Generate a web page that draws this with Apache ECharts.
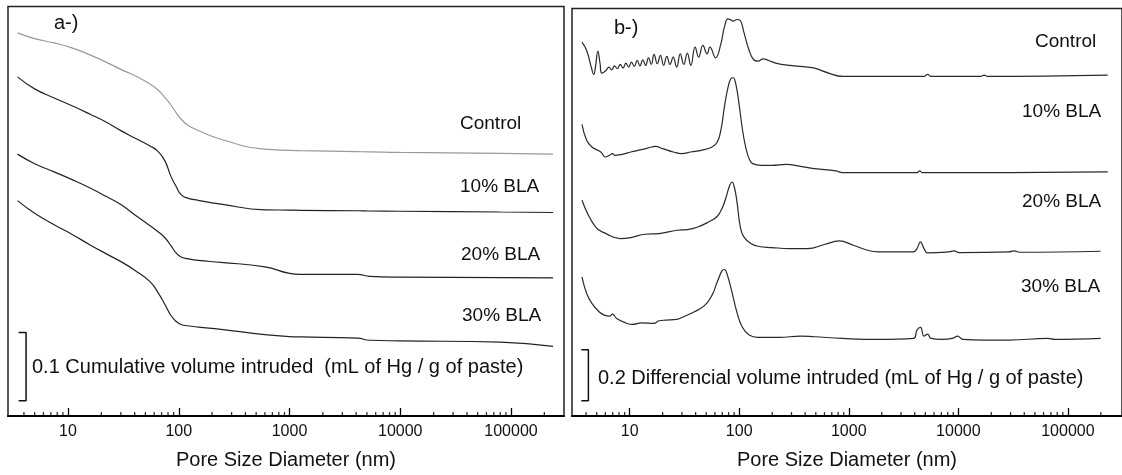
<!DOCTYPE html>
<html><head><meta charset="utf-8">
<script src="https://cdn.jsdelivr.net/npm/echarts@6/dist/echarts.min.js"></script>
<style>html,body{margin:0;padding:0;background:#fff;}#c{width:1122px;height:475px;}</style>
</head><body><div id="c"></div>
<script>
// ---------- data ----------
const seriesNames = ['Control', '10% BLA', '20% BLA', '30% BLA'];
const majorTickLabels = [10, 100, 1000, 10000, 100000];
const minorTickValues = [4,5,6,7,8,9,20,30,40,50,60,70,80,90,200,300,400,500,600,700,800,900,
  2000,3000,4000,5000,6000,7000,8000,9000,20000,30000,40000,50000,60000,70000,80000,90000,200000];

// Panel a: cumulative volume intruded (mL Hg / g paste) vs pore diameter (nm)
const diamA = [3.5,5,7.5,11,16,22,30,40,55,65,75,85,95,105,120,150,240,600,1000,1250,4100,5300,10000,80000,240000];
const cumControl = [0.1778,0.1693,0.1630,0.1554,0.1452,0.1349,0.1243,0.1152,0.1028,0.0940,0.0830,0.0721,0.0604,0.0516,0.0428,0.0348,0.0219,0.0073,0.0056,0.0051,0.0037,0.0034,0.0026,0.0012,0];
const cum10 = [0.1987,0.1811,0.1677,0.1560,0.1436,0.1326,0.1199,0.1092,0.0975,0.0895,0.0756,0.0529,0.0376,0.0262,0.0211,0.0178,0.0123,0.0039,0.0035,0.0032,0.0025,0.0022,0.0018,0.0007,0];
const cum20 = [0.1814,0.1674,0.1554,0.1437,0.1313,0.1196,0.1075,0.0925,0.0765,0.0677,0.0589,0.0472,0.0363,0.0307,0.0282,0.0256,0.0228,0.0162,0.0067,0.0053,0.0053,0.0023,0.0012,0.0004,0];
const cum30 = [0.2137,0.1952,0.1784,0.1637,0.1484,0.1360,0.1243,0.1118,0.0950,0.0789,0.0614,0.0453,0.0365,0.0322,0.0303,0.0284,0.0251,0.0174,0.0143,0.0139,0.0121,0.0091,0.0082,0.0063,0];
const offsetsA = [0.3836, 0.2982, 0.2023, 0.1019];

// Panel b: differential volume intruded
const diamBControl = [3.67,4.05,4.46,4.70,4.87,5.13,5.37,5.57,6.09,6.46,6.86,7.27,7.72,8.19,8.70,9.23,9.79,10.39,11.03,11.70,12.42,13.18,13.98,14.84,15.75,16.71,17.86,19.10,20.42,21.83,23.35,24.96,26.88,28.95,31.18,33.59,36.18,39.55,42.60,46.57,50.90,54.01,60.83,68.0,73.2,78.9,83.7,88.2,95.0,102.3,110.2,123.2,135.6,148.3,165.8,185.3,214.9,289.3,419.4,486.4,655,881,1852,4862,5237,5641,15950,17180,18500,231000];
const diffControl = [0.1346,0.1020,0.0366,0.0078,0.0366,0.0993,0.0497,0.0131,0.0235,0.0366,0.0261,0.0418,0.0301,0.0471,0.0327,0.0523,0.0366,0.0562,0.0392,0.0627,0.0418,0.0654,0.0431,0.0732,0.0471,0.0863,0.0497,0.0824,0.0431,0.0784,0.0471,0.0758,0.0366,0.0889,0.0471,0.0915,0.0431,0.1150,0.0758,0.1216,0.0889,0.1150,0.0732,0.1281,0.1935,0.2261,0.2222,0.2170,0.2235,0.2196,0.1739,0.1020,0.0654,0.0601,0.0693,0.0627,0.0523,0.0431,0.0366,0.0327,0.0131,0,0,0,0.0078,0,0,0.0052,0,0.0052];
const diamB10 = [3.67,4.05,4.52,5.45,6.0,6.56,6.96,7.33,8.50,10.24,12.79,15.98,17.21,19.97,24.96,30.04,36.18,45.2,56.5,63.1,68.0,73.2,78.9,83.7,88.2,92.9,98.6,106.2,114.4,123.2,132.7,159.7,199.6,268.6,361.5,486.4,759.5,881,1852,4191,4446,4684,17180,231000];
const diff10 = [0.1895,0.1268,0.1007,0.0810,0.0614,0.0680,0.0745,0.0680,0.0719,0.0810,0.0902,0.1007,0.1033,0.0941,0.0810,0.0745,0.0810,0.0876,0.1007,0.1203,0.1660,0.2575,0.3333,0.3686,0.3725,0.3490,0.2837,0.1791,0.1007,0.0549,0.0353,0.0288,0.0288,0.0327,0.0248,0.0157,0.0065,0,0,0,0.0065,0,0,0.0026];
const diamB20 = [3.67,4.87,6.09,8.19,10.24,13.78,18.54,26.88,33.59,41.97,52.44,63.1,70.6,76.0,81.9,86.2,90.2,95.0,102.3,110.2,127.8,148.3,199.6,289.3,419.4,607.9,818,1101,1482,1852,3890,4191,4515,4862,5237,8177,9138,10212,28880,32290,36090,199100];
const diff20 = [0.2026,0.0980,0.0719,0.0523,0.0562,0.0693,0.0719,0.0850,0.0876,0.0980,0.1176,0.1399,0.1765,0.2157,0.2614,0.2745,0.2549,0.2026,0.0980,0.0588,0.0327,0.0222,0.0170,0.0131,0.0131,0.0301,0.0431,0.0261,0.0065,0,0,0.0131,0.0392,0.0131,-0.0039,0,0.0039,-0.0026,0,0.0039,-0.0013,0.0026];
const diamB30 = [3.67,4.05,4.52,5.25,5.87,6.56,6.96,7.61,9.16,10.62,12.79,16.59,18.54,21.51,26.88,30.04,38.96,48.69,56.5,63.1,69.54,73.2,77.14,84.98,95.0,106.2,123.2,148.3,231.5,361.5,486.4,881,1852,3890,4191,4515,4862,5237,5641,7047,8808,9845,11000,17180,28880,65400,75860,199100];
const diff30 = [0.2431,0.1778,0.1386,0.1059,0.0928,0.0889,0.0967,0.0797,0.0627,0.0562,0.0627,0.0601,0.0706,0.0732,0.0758,0.0837,0.1059,0.1320,0.1712,0.2235,0.2667,0.2719,0.2562,0.1908,0.1059,0.0471,0.0144,0.0052,0.0052,0.0105,0.0078,0.0013,-0.0026,0.0013,0.0340,0.0444,0.0105,0.0183,0.0013,-0.0026,0.0013,0.0105,-0.0026,-0.0052,-0.0052,0.0013,-0.0026,0.0013];
const offsetsB = [1.3333, 0.9556, 0.6443, 0.3033];

// scale bars (x in nm, y in mL/g)
const scaleBarAx = [3.58, 4.18];
const scaleBarAy = [0.0224, 0.1224];
const scaleBarBx = [3.62, 4.20];
const scaleBarBy = [0.06, 0.26];
const scaleTextA = '0.1 Cumulative volume intruded  (mL of Hg / g of paste)';
const scaleTextB = '0.2 Differencial volume intruded (mL of Hg / g of paste)';
const xTitle = 'Pore Size Diameter (nm)';

// ---------- chart ----------
const FONT = '"Liberation Sans", Arial, sans-serif';
const chart = echarts.init(document.getElementById('c'));

function xAx(gi, min, max) {
  return {
    type: 'log', logBase: 10, gridIndex: gi, min: min, max: max,
    name: xTitle, nameLocation: 'middle', nameGap: 34,
    nameTextStyle: { fontFamily: FONT, fontSize: 20, color: '#111' },
    axisLine: { show: true, onZero: false, lineStyle: { color: '#000', width: 2 } },
    axisTick: { show: true, inside: true, length: 8, lineStyle: { color: '#000', width: 1.3 } },
    axisLabel: {
      show: true, margin: 8, fontFamily: FONT, fontSize: 16, color: '#111',
      showMinLabel: false, showMaxLabel: false,
      formatter: function (v) { const r = Math.round(v); return majorTickLabels.indexOf(r) >= 0 ? String(r) : ''; }
    },
    splitLine: { show: false }
  };
}
function yAx(gi, max) {
  return { type: 'value', gridIndex: gi, min: 0, max: max, show: false };
}
function curve(gi, diam, vals, off, color, sm) {
  return {
    type: 'line', xAxisIndex: gi, yAxisIndex: gi, silent: true,
    data: diam.map((d, i) => [d, off + vals[i]]),
    showSymbol: false, symbol: 'none', smooth: sm,
    lineStyle: { color: color, width: 1.2 }
  };
}
function ticks(gi) {
  return {
    type: 'scatter', xAxisIndex: gi, yAxisIndex: gi, silent: true, clip: false, z: 6,
    data: minorTickValues.map(v => [v, 0]),
    symbol: 'rect', symbolSize: [1.3, 4], symbolOffset: [0, -2],
    itemStyle: { color: '#000' }
  };
}
function bracket(gi, bx, by) {
  return {
    type: 'line', xAxisIndex: gi, yAxisIndex: gi, silent: true, clip: false,
    data: [[bx[0], by[1]], [bx[1], by[1]], [bx[1], by[0]], [bx[0], by[0]]],
    showSymbol: false, symbol: 'none', lineStyle: { color: '#111', width: 1.5 }
  };
}
function txt(x, y, s, size) {
  return { type: 'text', x: x, y: y, silent: true,
    style: { text: s, font: (size || 19) + 'px ' + FONT, fill: '#111', align: 'left', verticalAlign: 'middle' } };
}

const curvesA = [cumControl, cum10, cum20, cum30];
const colorsA = ['#9a9a9a', '#222', '#222', '#222'];
const diamsB = [diamBControl, diamB10, diamB20, diamB30];
const curvesB = [diffControl, diff10, diff20, diff30];

const series = [];
curvesA.forEach((c, k) => series.push(curve(0, diamA, c, offsetsA[k], colorsA[k], 0.5)));
curvesB.forEach((c, k) => series.push(curve(1, diamsB[k], c, offsetsB[k], '#2a2a2a', 0.45)));
series.push(ticks(0), ticks(1));
series.push(bracket(0, scaleBarAx, scaleBarAy), bracket(1, scaleBarBx, scaleBarBy));

const labelPosA = [[460, 123.5], [460, 187], [461, 255], [462, 316]];
const labelPosB = [[1035, 42], [1022, 112], [1022, 202], [1021, 287]];
const graphics = [txt(54, 23.5, 'a-)', 20), txt(614, 28.5, 'b-)', 20)];
seriesNames.forEach((n, k) => { graphics.push(txt(labelPosA[k][0], labelPosA[k][1], n)); graphics.push(txt(labelPosB[k][0], labelPosB[k][1], n)); });
graphics.push(txt(32, 367, scaleTextA, 20), txt(598, 378.5, scaleTextB, 20));

chart.setOption({
  animation: false,
  backgroundColor: '#fff',
  grid: [
    { left: 8, top: 6.5, width: 556, height: 409.5, show: true, borderColor: '#222', borderWidth: 1.5, containLabel: false },
    { left: 572, top: 8.5, width: 556, height: 407.5, show: true, borderColor: '#222', borderWidth: 1.5, containLabel: false }
  ],
  xAxis: [xAx(0, 2.872, 301000), xAx(1, 2.976, 311900)],
  yAxis: [yAx(0, 0.6), yAx(1, 1.6)],
  series: series,
  graphic: graphics
});
</script></body></html>
